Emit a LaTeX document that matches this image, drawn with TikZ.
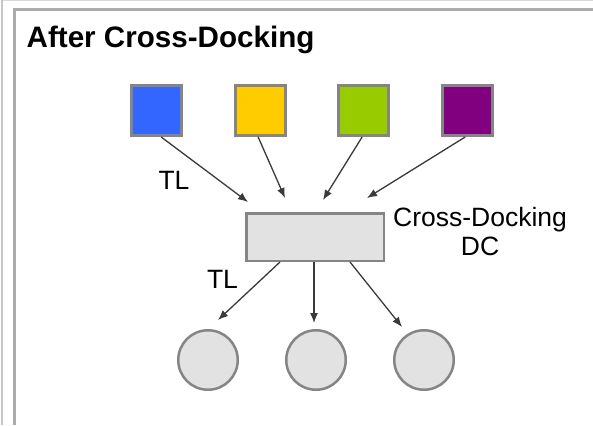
\documentclass[tikz,border=0pt]{standalone}
\usepackage{fontspec}
\setmainfont{Liberation Sans}
\usetikzlibrary{arrows.meta,calc}
\definecolor{sqblue}{HTML}{3366FF}
\definecolor{sqyellow}{HTML}{FFCC00}
\definecolor{sqgreen}{HTML}{99CC00}
\definecolor{sqpurple}{HTML}{800080}
\definecolor{edgegray}{HTML}{858585}
\definecolor{boxfill}{HTML}{E2E2E2}
\definecolor{arrgray}{HTML}{3A3A3A}
\tikzset{
  src/.style={draw=edgegray, line width=3pt, minimum size=50pt, inner sep=0pt},
  dcbox/.style={draw=edgegray, fill=boxfill, line width=2.5pt, minimum width=137.5pt, minimum height=47.5pt, inner sep=0pt},
  store/.style={circle, draw=edgegray, fill=boxfill, line width=2.5pt, minimum size=59.5pt, inner sep=0pt},
  arr/.style={draw=arrgray, line width=1.3pt, -{Latex[length=10pt,width=8pt]}},
  lbl/.style={inner sep=0pt, font=\fontsize{26.5}{29.5}\selectfont, text=black},
  ttl/.style={inner sep=0pt, anchor=base west, font=\fontsize{29.6}{32}\selectfont\bfseries}
}
\begin{document}
\begin{tikzpicture}[x=1pt,y=-1pt]
\useasboundingbox (0,0) rectangle (593,425);
\fill[white] (0,0) rectangle (593,425);
% frame lines
\draw[gray!45, line width=2pt] (2,0) -- (2,425);
\draw[gray!30, line width=1.5pt] (3,0.75) -- (593,0.75);
\draw[gray!65, line width=3pt] (14.5,425) -- (14.5,9.5) -- (593,9.5);
% title
\node[ttl] (title) at (26.5,47.5) {After Cross-Docking};
% sources
\node[src, fill=sqblue]   (s1) at (156.5,110.5) {};
\node[src, fill=sqyellow] (s2) at (260,110.5) {};
\node[src, fill=sqgreen]  (s3) at (363.5,110.5) {};
\node[src, fill=sqpurple] (s4) at (467.5,110.5) {};
% DC
\node[dcbox] (dc) at (315,237) {};
\node[lbl, align=center] (dclbl) at (480,231.7) {Cross-Docking\\DC};
% stores
\node[store] (c1) at (208,360) {};
\node[store] (c2) at (316,360) {};
\node[store] (c3) at (424,360) {};
% arrow ends
\coordinate (t1) at (248,202);
\coordinate (t2) at (285,198);
\coordinate (t3) at (323,200);
\coordinate (t4) at (367,198);
\coordinate (b1) at (218,320);
\coordinate (b2) at (314,323);
\coordinate (b3) at (402,327);
% inbound
\draw[arr] (s1.-80) -- (t1);
\draw[arr] (s2.-94) -- (t2);
\draw[arr] (s3.-93) -- (t3);
\draw[arr] (s4.-95) -- (t4);
% outbound
\draw[arr] ($(dc.south)+(-35,0)$) -- (b1);
\draw[arr] ($(dc.south)+(-1,0)$) -- (b2);
\draw[arr] ($(dc.south)+(35,0)$) -- (b3);
% labels
\node[lbl] (tl1) at (174,180.5) {TL};
\node[lbl] (tl2) at (222.5,279.5) {TL};
\end{tikzpicture}
\end{document}
